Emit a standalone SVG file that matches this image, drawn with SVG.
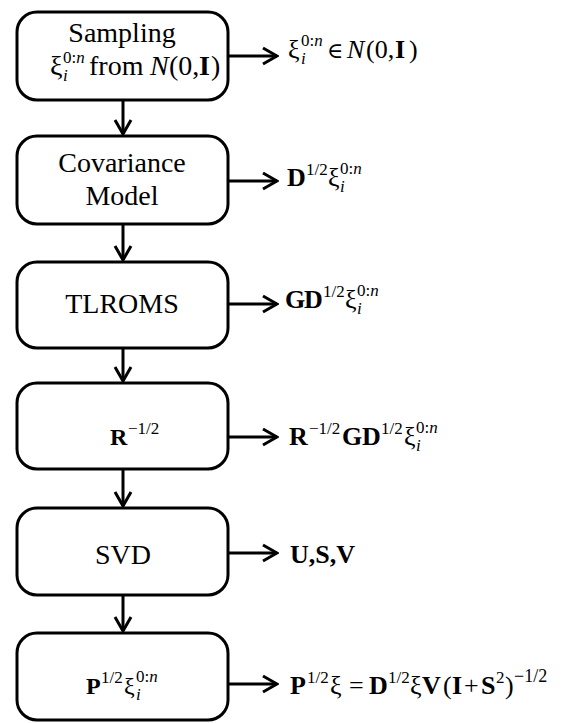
<svg xmlns="http://www.w3.org/2000/svg" width="561" height="723" viewBox="0 0 561 723">
<defs>
<style>
text{font-family:"Liberation Serif","DejaVu Serif",serif;fill:#000}
.c{text-anchor:middle;font-size:28px}
.m{font-size:26px}
.sm{font-size:24px}
.s{font-size:17px}
.b{font-weight:bold}
.i{font-style:italic}
.box{fill:#fff;stroke:#000;stroke-width:3}
.ln{stroke:#000;stroke-width:3;fill:none}
</style>
<marker id="ah" markerUnits="userSpaceOnUse" markerWidth="18" markerHeight="20" viewBox="-16 -10 18 20" refX="0" refY="0" orient="auto">
<path d="M-14,-8 L0,0 L-14,8" fill="none" stroke="#000" stroke-width="3"/>
</marker>
</defs>
<rect width="561" height="723" fill="#fff"/>

<g id="connectors">
<line class="ln" x1="123" y1="100" x2="123" y2="134" marker-end="url(#ah)"/>
<line class="ln" x1="123" y1="224" x2="123" y2="260" marker-end="url(#ah)"/>
<line class="ln" x1="123" y1="348" x2="123" y2="381" marker-end="url(#ah)"/>
<line class="ln" x1="123" y1="469" x2="123" y2="506" marker-end="url(#ah)"/>
<line class="ln" x1="123" y1="595" x2="123" y2="631" marker-end="url(#ah)"/>
<line class="ln" x1="228" y1="56" x2="277" y2="56" marker-end="url(#ah)"/>
<line class="ln" x1="228" y1="181" x2="277" y2="181" marker-end="url(#ah)"/>
<line class="ln" x1="228" y1="304" x2="277" y2="304" marker-end="url(#ah)"/>
<line class="ln" x1="228" y1="437" x2="277" y2="437" marker-end="url(#ah)"/>
<line class="ln" x1="228" y1="553" x2="277" y2="553" marker-end="url(#ah)"/>
<line class="ln" x1="228" y1="684" x2="277" y2="684" marker-end="url(#ah)"/>
</g>

<g id="node-sampling">
<rect class="box" x="17" y="12" width="211" height="88" rx="20"/>
<text class="c" x="122" y="42">Sampling</text>
<text y="75"><tspan x="50" style="font-size:28px">ξ</tspan><tspan class="s i" x="63" y="81">i</tspan><tspan class="s" x="63" y="63">0:<tspan class="i">n</tspan></tspan><tspan x="89" y="75" style="font-size:28px">from</tspan><tspan class="i" x="150" style="font-size:28px">N</tspan><tspan x="169" style="font-size:28px">(0,</tspan><tspan class="b" x="199" style="font-size:28px">I</tspan><tspan x="211" style="font-size:28px">)</tspan></text>
</g>

<g id="node-covariance">
<rect class="box" x="17" y="136" width="211" height="88" rx="20"/>
<text class="c" x="122" y="172">Covariance</text>
<text class="c" x="122" y="205">Model</text>
</g>

<g id="node-tlroms">
<rect class="box" x="17" y="262" width="211" height="86" rx="20"/>
<text class="c" x="122" y="313">TLROMS</text>
</g>

<g id="node-r">
<rect class="box" x="17" y="383" width="211" height="86" rx="20"/>
<text y="445"><tspan class="sm b" x="110">R</tspan><tspan class="s" x="128" y="434">−1/2</tspan></text>
</g>

<g id="node-svd">
<rect class="box" x="17" y="508" width="211" height="87" rx="20"/>
<text class="c" x="123" y="564">SVD</text>
</g>

<g id="node-p">
<rect class="box" x="17" y="633" width="211" height="87" rx="20"/>
<text y="694"><tspan class="sm b" x="86">P</tspan><tspan class="s" x="101" y="683">1/2</tspan><tspan class="sm" x="124" y="694">ξ</tspan><tspan class="s i" x="136" y="700">i</tspan><tspan class="s" x="136" y="682">0:<tspan class="i">n</tspan></tspan></text>
</g>

<g id="labels">
<text y="58"><tspan class="m" x="288">ξ</tspan><tspan class="s i" x="301" y="64">i</tspan><tspan class="s" x="301" y="46">0:<tspan class="i">n</tspan></tspan><tspan x="327" y="58" style="font-size:22px">∈</tspan><tspan class="m i" x="347">N</tspan><tspan class="m" x="366">(0,</tspan><tspan class="m b" x="395">I</tspan><tspan class="m" x="409">)</tspan></text>

<text y="186"><tspan class="m b" x="287">D</tspan><tspan class="s" x="306" y="175">1/2</tspan><tspan class="m" x="328" y="186">ξ</tspan><tspan class="s i" x="340" y="192">i</tspan><tspan class="s" x="340" y="174">0:<tspan class="i">n</tspan></tspan></text>

<text y="308"><tspan class="m b" x="285">G</tspan><tspan class="m b" x="304">D</tspan><tspan class="s" x="323" y="297">1/2</tspan><tspan class="m" x="345" y="308">ξ</tspan><tspan class="s i" x="357" y="314">i</tspan><tspan class="s" x="357" y="296">0:<tspan class="i">n</tspan></tspan></text>

<text y="445"><tspan class="m b" x="289">R</tspan><tspan class="s" x="309" y="434">−1/2</tspan><tspan class="m b" x="342" y="445">G</tspan><tspan class="m b" x="362">D</tspan><tspan class="s" x="381" y="434">1/2</tspan><tspan class="m" x="404" y="445">ξ</tspan><tspan class="s i" x="416" y="451">i</tspan><tspan class="s" x="416" y="433">0:<tspan class="i">n</tspan></tspan></text>

<text class="m b" x="290" y="563">U,S,V</text>

<text y="694"><tspan class="m b" x="290">P</tspan><tspan class="s" x="307" y="683">1/2</tspan><tspan class="m" x="330" y="694">ξ</tspan><tspan class="m" x="349">=</tspan><tspan class="m b" x="369">D</tspan><tspan class="s" x="388" y="683">1/2</tspan><tspan class="m" x="410" y="694">ξ</tspan><tspan class="m b" x="422">V</tspan><tspan class="m" x="443">(</tspan><tspan class="m b" x="452">I</tspan><tspan class="m" x="464">+</tspan><tspan class="m b" x="481">S</tspan><tspan class="s" x="496" y="683">2</tspan><tspan class="m" x="505" y="694">)</tspan><tspan x="514" y="682" style="font-size:18px">−1/2</tspan></text>
</g>
</svg>
